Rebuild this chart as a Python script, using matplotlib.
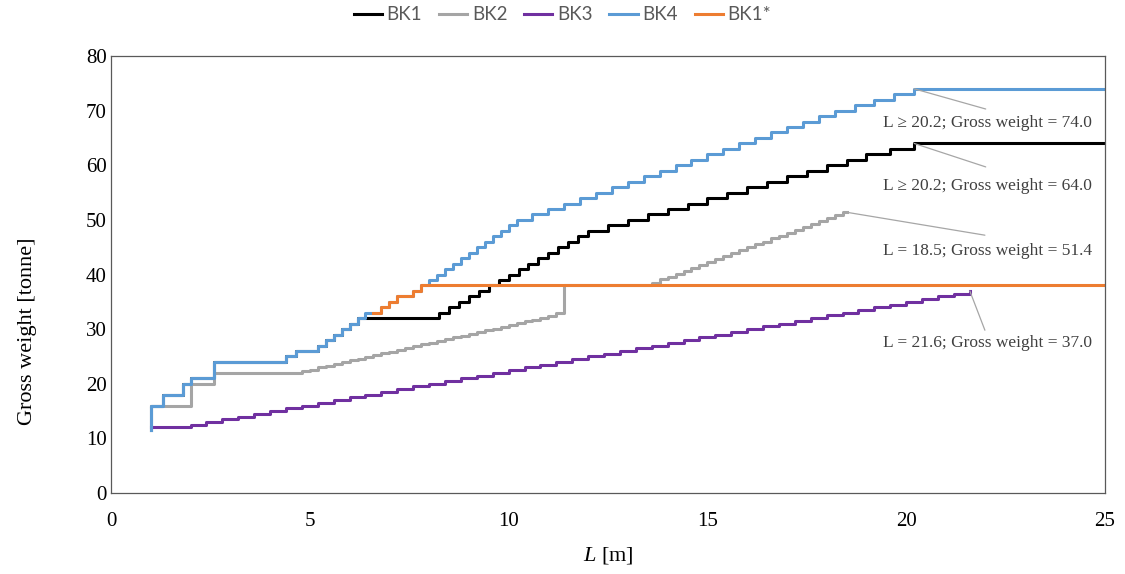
import matplotlib.pyplot as plt

plt.rcParams["mathtext.fontset"] = "custom"
plt.rcParams["mathtext.rm"] = "Liberation Serif"
plt.rcParams["mathtext.it"] = "Liberation Serif:italic"

# Step breakpoints (L in m) and gross weight (tonne)
bk1_x = [1.0, 1.0, 1.3, 1.8, 2.0, 2.6, 4.4, 4.65, 5.2, 5.4, 5.6, 5.8, 6.0, 6.2,
         8.25, 8.5, 8.75, 9.0, 9.25, 9.5, 9.75, 10.0, 10.25, 10.5, 10.75, 11.0,
         11.25, 11.5, 11.75, 12.0, 12.5, 13.0, 13.5, 14.0, 14.5, 15.0, 15.5, 16.0,
         16.5, 17.0, 17.5, 18.0, 18.5, 19.0, 19.6, 20.2, 25.0]
bk1_y = [11.5, 16, 18, 20, 21, 24, 25, 26, 27, 28, 29, 30, 31, 32,
         33, 34, 35, 36, 37, 38, 39, 40, 41, 42, 43, 44,
         45, 46, 47, 48, 49, 50, 51, 52, 53, 54, 55, 56,
         57, 58, 59, 60, 61, 62, 63, 64, 64]

bk2_x = [1.0, 2.0, 2.6, 4.8, 5.0, 5.2, 5.4, 5.6, 5.8, 6.0, 6.2, 6.4, 6.6, 6.8,
         7.0, 7.2, 7.4, 7.6, 7.8, 8.0, 8.2, 8.4, 8.6, 8.8, 9.0, 9.2, 9.4, 9.6,
         9.8, 10.0, 10.2, 10.4, 10.6, 10.8, 11.0, 11.2, 11.4,
         13.6, 13.8, 14.0, 14.2, 14.4, 14.6, 14.8, 15.0, 15.2, 15.4, 15.6, 15.8,
         16.0, 16.2, 16.4, 16.6, 16.8, 17.0, 17.2, 17.4, 17.6, 17.8, 18.0, 18.2,
         18.4, 18.5]
bk2_y = [16, 20, 22, 22.3, 22.6, 23.0, 23.3, 23.6, 23.9, 24.3, 24.6, 24.9, 25.2, 25.6,
         25.9, 26.2, 26.5, 26.9, 27.2, 27.5, 27.8, 28.2, 28.5, 28.8, 29.1, 29.5, 29.8, 30.1,
         30.4, 30.8, 31.1, 31.4, 31.7, 32.1, 32.4, 33.0, 38,
         38.5, 39.1, 39.6, 40.1, 40.7, 41.2, 41.8, 42.3, 42.8, 43.4, 43.9, 44.4,
         45.0, 45.5, 46.0, 46.6, 47.1, 47.6, 48.2, 48.7, 49.3, 49.8, 50.3, 50.9,
         51.4, 51.4]

bk3_x = [1.0, 2.0, 2.4, 2.8, 3.2, 3.6, 4.0, 4.4, 4.8, 5.2, 5.6, 6.0, 6.4, 6.8,
         7.2, 7.6, 8.0, 8.4, 8.8, 9.2, 9.6, 10.0, 10.4, 10.8, 11.2, 11.6, 12.0,
         12.4, 12.8, 13.2, 13.6, 14.0, 14.4, 14.8, 15.2, 15.6, 16.0, 16.4, 16.8,
         17.2, 17.6, 18.0, 18.4, 18.8, 19.2, 19.6, 20.0, 20.4, 20.8, 21.2, 21.6]
bk3_y = [12, 12.5, 13, 13.5, 14, 14.5, 15, 15.5, 16, 16.5, 17, 17.5, 18, 18.5,
         19, 19.5, 20, 20.5, 21, 21.5, 22, 22.5, 23, 23.5, 24, 24.5, 25,
         25.5, 26, 26.5, 27, 27.5, 28, 28.5, 29, 29.5, 30, 30.5, 31,
         31.5, 32, 32.5, 33, 33.5, 34, 34.5, 35, 35.5, 36, 36.5, 37]

bk4_x = [1.0, 1.0, 1.3, 1.8, 2.0, 2.6, 4.4, 4.65, 5.2, 5.4, 5.6, 5.8, 6.0, 6.2,
         6.4, 6.8, 7.0, 7.2, 7.6, 7.8, 8.0, 8.2, 8.4, 8.6, 8.8, 9.0, 9.2, 9.4,
         9.6, 9.8, 10.0, 10.2, 10.6, 11.0, 11.4, 11.8, 12.2, 12.6, 13.0, 13.4,
         13.8, 14.2, 14.6, 15.0, 15.4, 15.8, 16.2, 16.6, 17.0, 17.4, 17.8, 18.2,
         18.7, 19.2, 19.7, 20.2, 25.0]
bk4_y = [11.5, 16, 18, 20, 21, 24, 25, 26, 27, 28, 29, 30, 31, 32,
         33, 34, 35, 36, 37, 38, 39, 40, 41, 42, 43, 44, 45, 46,
         47, 48, 49, 50, 51, 52, 53, 54, 55, 56, 57, 58,
         59, 60, 61, 62, 63, 64, 65, 66, 67, 68, 69, 70,
         71, 72, 73, 74, 74]

bk1s_x = [6.6, 6.8, 7.0, 7.2, 7.6, 7.8, 25.0]
bk1s_y = [33, 34, 35, 36, 37, 38, 38]

# Labelled end points: (L, weight, text, leader end, text anchor)
labels = [
    (20.2, 74.0, "L \u2265 20.2; Gross weight = 74.0", (22.0, 70.3), (24.67, 67.7)),
    (20.2, 64.0, "L \u2265 20.2; Gross weight = 64.0", (22.0, 59.7), (24.67, 56.2)),
    (18.5, 51.4, "L = 18.5; Gross weight = 51.4", (21.98, 47.2), (24.67, 44.3)),
    (21.6, 37.0, "L = 21.6; Gross weight = 37.0", (21.98, 29.8), (24.67, 27.5)),
]

series = [
    ("BK1", bk1_x, bk1_y, "#000000"),
    ("BK2", bk2_x, bk2_y, "#A5A5A5"),
    ("BK3", bk3_x, bk3_y, "#7030A0"),
    ("BK4", bk4_x, bk4_y, "#5B9BD5"),
    ("BK1*", bk1s_x, bk1s_y, "#ED7D31"),
]

fig = plt.figure(figsize=(11.25, 5.74), dpi=100)
ax = fig.add_axes([0.0987, 0.1411, 0.8835, 0.7613])

for name, xs, ys, col in series:
    ax.step(xs, ys, where="post", color=col, lw=2.2, label=name)

serif = "Liberation Serif"
for lx, ly, txt, lend, tpos in labels:
    ax.annotate("", xy=(lx, ly), xytext=lend,
                arrowprops=dict(arrowstyle="-", color="#A6A6A6", lw=0.9,
                                shrinkA=0, shrinkB=0))
    ax.text(tpos[0], tpos[1], txt, ha="right", va="center",
            family=serif, fontsize=12.5, color="#404040")

ax.set_xlim(0, 25)
ax.set_ylim(0, 80)
ax.set_xticks([0, 5, 10, 15, 20, 25])
ax.set_yticks(range(0, 81, 10))
for lab in ax.get_xticklabels() + ax.get_yticklabels():
    lab.set_family(serif)
    lab.set_fontsize(15)
ax.tick_params(length=0, pad=3)
ax.tick_params(axis="x", pad=14)

for sp in ax.spines.values():
    sp.set_color("#595959")
    sp.set_linewidth(0.9)

ax.set_ylabel("Gross weight [tonne]", family=serif, fontsize=16)
ax.yaxis.set_label_coords(-0.074, 0.37)
ax.set_xlabel("$L$ [m]", family=serif, fontsize=16, labelpad=10)

leg = fig.legend(loc="center", bbox_to_anchor=(0.5, 0.974), ncol=5,
                 frameon=False, handlelength=1.5, handletextpad=0.25,
                 columnspacing=0.9, prop={"family": "Lato", "size": 13.5})
for t in leg.get_texts():
    t.set_color("#595959")

fig.savefig("out.png", dpi=100)
